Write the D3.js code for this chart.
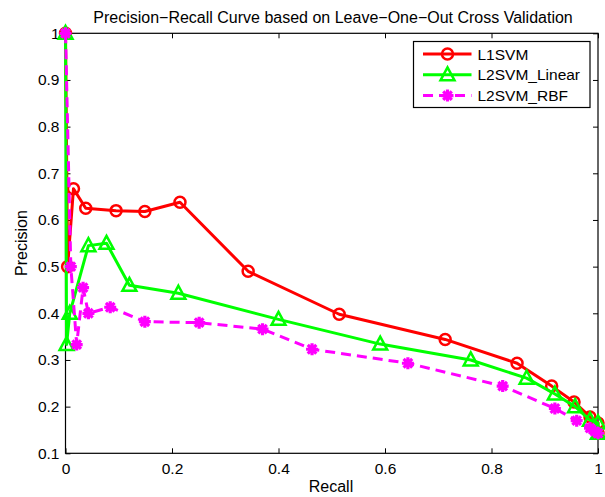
<!DOCTYPE html>
<meta charset="utf-8">
<style>
    body { margin: 0; background: #fff; }
    svg text { font-family: "Liberation Sans", Arial, sans-serif; fill: #000; }
</style>
<svg class="chart"></svg>
<script src="https://cdn.jsdelivr.net/npm/d3@7"></script>
<script>

    // data
    var l1Recall    = [0, 0.004, 0.015, 0.038, 0.095, 0.149, 0.215, 0.343, 0.514, 0.713, 0.848, 0.913, 0.955, 0.985, 1.0, 1.0];
    var l1Precision = [1.0, 0.5, 0.667, 0.625, 0.62, 0.618, 0.638, 0.49, 0.398, 0.344, 0.293, 0.244, 0.21, 0.178, 0.165, 0.143];

    var linRecall    = [0, 0.002, 0.008, 0.043, 0.077, 0.12, 0.212, 0.40, 0.591, 0.761, 0.866, 0.919, 0.957, 0.985, 1.0, 1.0];
    var linPrecision = [1.0, 0.333, 0.4, 0.545, 0.55, 0.46, 0.443, 0.387, 0.334, 0.3, 0.261, 0.227, 0.2, 0.171, 0.165, 0.143];

    var rbfRecall    = [0, 0.01, 0.021, 0.033, 0.043, 0.084, 0.149, 0.251, 0.37, 0.463, 0.643, 0.821, 0.919, 0.96, 0.985, 0.994, 1.0];
    var rbfPrecision = [1.0, 0.5, 0.333, 0.455, 0.4, 0.413, 0.382, 0.38, 0.366, 0.323, 0.293, 0.244, 0.196, 0.17, 0.154, 0.147, 0.143];

    var seriesNames = ["L1SVM", "L2SVM_Linear", "L2SVM_RBF"];
    var xTicks = [0, 0.2, 0.4, 0.6, 0.8, 1];
    var yTicks = [0.1, 0.2, 0.3, 0.4, 0.5, 0.6, 0.7, 0.8, 0.9, 1];

    var width = 605,
        height = 497,
        pLeft = 65.5, pRight = 598, pTop = 33.3, pBottom = 453.3;

    var x = d3.scaleLinear().domain([0, 1]).range([pLeft, pRight]);
    var y = d3.scaleLinear().domain([0.1, 1]).range([pBottom, pTop]);

    var svg = d3.select(".chart")
        .attr("width", width)
        .attr("height", height);

    var fmt = function(d) { return d === 0 || d === 1 ? String(d) : d3.format(".1f")(d); };

    // axes (MATLAB-ish: inward ticks, box)
    svg.append("g")
        .attr("transform", "translate(0," + pBottom + ")")
        .call(d3.axisBottom(x).tickValues(xTicks).tickFormat(fmt).tickSizeInner(-5).tickSizeOuter(0).tickPadding(10))
        .call(function(g) {
            g.select(".domain").remove();
            g.selectAll("text").attr("font-size", 15.5).attr("font-family", "Liberation Sans, Arial, sans-serif");
        });
    svg.append("g")
        .attr("transform", "translate(0," + pTop + ")")
        .call(d3.axisTop(x).tickValues(xTicks).tickFormat("").tickSizeInner(-5).tickSizeOuter(0))
        .call(function(g) { g.select(".domain").remove(); });
    svg.append("g")
        .attr("transform", "translate(" + pLeft + ",0)")
        .call(d3.axisLeft(y).tickValues(yTicks).tickFormat(fmt).tickSizeInner(-5).tickSizeOuter(0).tickPadding(6))
        .call(function(g) {
            g.select(".domain").remove();
            g.selectAll("text").attr("font-size", 15.5).attr("font-family", "Liberation Sans, Arial, sans-serif");
        });
    svg.append("g")
        .attr("transform", "translate(" + pRight + ",0)")
        .call(d3.axisRight(y).tickValues(yTicks).tickFormat("").tickSizeInner(-5).tickSizeOuter(0))
        .call(function(g) { g.select(".domain").remove(); });

    svg.append("rect")
        .attr("x", pLeft).attr("y", pTop)
        .attr("width", pRight - pLeft).attr("height", pBottom - pTop)
        .attr("fill", "none").attr("stroke", "#000").attr("stroke-width", 1.2);

    // series
    var series = [
        { name: seriesNames[0], color: "#ff0000", dash: null, marker: "circle",
          pts: l1Recall.map(function(r, i) { return [r, l1Precision[i]]; }) },
        { name: seriesNames[1], color: "#00ff00", dash: null, marker: "triangle",
          pts: linRecall.map(function(r, i) { return [r, linPrecision[i]]; }) },
        { name: seriesNames[2], color: "#ff00ff", dash: "10,6", marker: "star",
          pts: rbfRecall.map(function(r, i) { return [r, rbfPrecision[i]]; }) }
    ];

    var line = d3.line()
        .x(function(d) { return x(d[0]); })
        .y(function(d) { return y(d[1]); });

    function drawMarker(g, type, color) {
        if (type === "circle") {
            g.append("circle").attr("r", 5.5)
                .attr("fill", "none").attr("stroke", color).attr("stroke-width", 2.5);
        } else if (type === "triangle") {
            g.append("path").attr("d", "M0,-7.5L7,5.5L-7,5.5Z")
                .attr("fill", "none").attr("stroke", color).attr("stroke-width", 2.5)
                .attr("stroke-linejoin", "miter");
        } else {
            g.append("path").attr("d", "M-6,0H6M0,-6V6M-4.3,-4.3L4.3,4.3M-4.3,4.3L4.3,-4.3")
                .attr("fill", "none").attr("stroke", color).attr("stroke-width", 3.2);
        }
    }

    var plot = svg.append("g");

    series.forEach(function(s) {
        plot.append("path")
            .datum(s.pts)
            .attr("d", line)
            .attr("fill", "none")
            .attr("stroke", s.color)
            .attr("stroke-width", 3)
            .attr("stroke-dasharray", s.dash)
            .attr("stroke-linejoin", "round");

        plot.selectAll(null)
            .data(s.pts)
            .enter().append("g")
            .attr("transform", function(d) { return "translate(" + x(d[0]) + "," + y(d[1]) + ")"; })
            .each(function() { drawMarker(d3.select(this), s.marker, s.color); });
    });

    // legend
    var leg = svg.append("g").attr("transform", "translate(413.5,41.5)");
    leg.append("rect")
        .attr("width", 176.5).attr("height", 66)
        .attr("fill", "#fff").attr("stroke", "#000").attr("stroke-width", 1.2);

    series.forEach(function(s, i) {
        var row = leg.append("g").attr("transform", "translate(0," + (12.5 + i * 20.8) + ")");
        row.append("line")
            .attr("x1", 9.5).attr("x2", 58)
            .attr("stroke", s.color).attr("stroke-width", 3)
            .attr("stroke-dasharray", s.dash);
        drawMarker(row.append("g").attr("transform", "translate(34,0)"), s.marker, s.color);
        row.append("text")
            .attr("x", 64).attr("y", 5.5)
            .attr("font-size", 15.5)
            .text(s.name);
    });

    // title and labels
    svg.append("text")
        .attr("x", 333).attr("y", 23)
        .attr("text-anchor", "middle")
        .attr("font-size", 16)
        .text("Precision\u2212Recall Curve based on Leave\u2212One\u2212Out Cross Validation");

    svg.append("text")
        .attr("x", 331).attr("y", 492)
        .attr("text-anchor", "middle")
        .attr("font-size", 16)
        .text("Recall");

    svg.append("text")
        .attr("transform", "translate(27,243) rotate(-90)")
        .attr("text-anchor", "middle")
        .attr("font-size", 16)
        .text("Precision");

</script>
